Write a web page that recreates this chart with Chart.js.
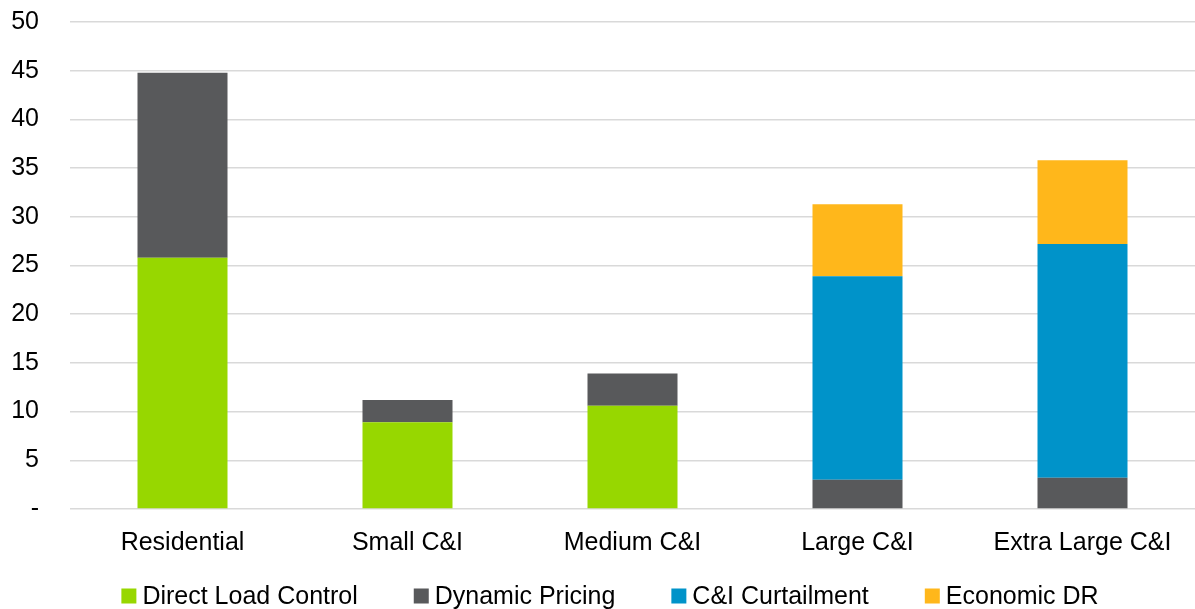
<!DOCTYPE html>
<html>
<head>
<meta charset="utf-8">
<script src="https://cdn.jsdelivr.net/npm/chart.js@4/dist/chart.umd.min.js"></script>
<style>
    html, body { margin: 0; padding: 0; background: #ffffff; }
    #wrap { width: 1195px; height: 609px; position: relative; }
</style>
</head>
<body>
<div id="wrap"><canvas id="chart"></canvas></div>
<script>
// Categories and series values
const categories = ['Residential', 'Small C&I', 'Medium C&I', 'Large C&I', 'Extra Large C&I'];
const directLoadControl = [25.8, 8.9, 10.6, 0, 0];
const dynamicPricing = [19.0, 2.3, 3.3, 3.0, 3.2];
const ciCurtailment = [0, 0, 0, 20.9, 24.0];
const economicDR = [0, 0, 0, 7.4, 8.6];
const yTicks = [0, 5, 10, 15, 20, 25, 30, 35, 40, 45, 50];

const seriesColors = {
    dlc: '#97d700',
    dp: '#58595b',
    curt: '#0093c9',
    econ: '#ffb71b'
};

const fontFamily = '"Liberation Sans", Arial, sans-serif';

// Simple legend drawn under the axis, tighter than the built-in one
const bottomLegend = {
    id: 'bottomLegend',
    afterDraw(chart) {
        const ctx = chart.ctx;
        const box = 15;
        const gap = 6;
        const spacing = 56;
        ctx.save();
        ctx.font = '25px ' + fontFamily;
        ctx.textBaseline = 'middle';
        const items = chart.data.datasets.map(ds => ({
            label: ds.label,
            color: ds.backgroundColor,
            w: box + gap + ctx.measureText(ds.label).width
        }));
        const total = items.reduce((s, it) => s + it.w, 0) + spacing * (items.length - 1);
        let x = 610 - total / 2;
        const y = 596;
        items.forEach(it => {
            ctx.fillStyle = it.color;
            ctx.fillRect(x, y - box / 2, box, box);
            ctx.fillStyle = '#000000';
            ctx.fillText(it.label, x + box + gap, y + 1);
            x += it.w + spacing;
        });
        ctx.restore();
    }
};

const barDefaults = {
    categoryPercentage: 1.0,
    barPercentage: 0.4,
    borderWidth: 0
};

new Chart(document.getElementById('chart'), {
    type: 'bar',
    data: {
        labels: categories,
        datasets: [
            { label: 'Direct Load Control', data: directLoadControl, backgroundColor: seriesColors.dlc, ...barDefaults },
            { label: 'Dynamic Pricing', data: dynamicPricing, backgroundColor: seriesColors.dp, ...barDefaults },
            { label: 'C&I Curtailment', data: ciCurtailment, backgroundColor: seriesColors.curt, ...barDefaults },
            { label: 'Economic DR', data: economicDR, backgroundColor: seriesColors.econ, ...barDefaults }
        ]
    },
    options: {
        responsive: true,
        maintainAspectRatio: false,
        animation: false,
        layout: {
            padding: { top: 0, left: 0, right: 0, bottom: 0 }
        },
        scales: {
            x: {
                stacked: true,
                grid: { display: false },
                border: { display: false },
                ticks: {
                    color: '#000000',
                    font: { family: fontFamily, size: 25 },
                    padding: 11,
                    maxRotation: 0,
                    autoSkip: false
                },
                afterFit(scale) { scale.height = 100; }
            },
            y: {
                stacked: true,
                min: 0,
                max: 50,
                afterBuildTicks(scale) {
                    scale.ticks = yTicks.map(v => ({ value: v }));
                },
                grid: {
                    color: '#d9d9d9',
                    lineWidth: 1.5,
                    drawTicks: true,
                    tickLength: 24,
                    tickColor: 'rgba(0,0,0,0)'
                },
                border: { display: false },
                ticks: {
                    color: '#000000',
                    font: { family: fontFamily, size: 25 },
                    padding: 7,
                    callback: v => v === 0 ? '-' : String(v)
                },
                afterFit(scale) { scale.width = 70; }
            }
        },
        plugins: {
            legend: { display: false },
            tooltip: { enabled: false }
        }
    },
    plugins: [bottomLegend]
});
</script>
</body>
</html>
